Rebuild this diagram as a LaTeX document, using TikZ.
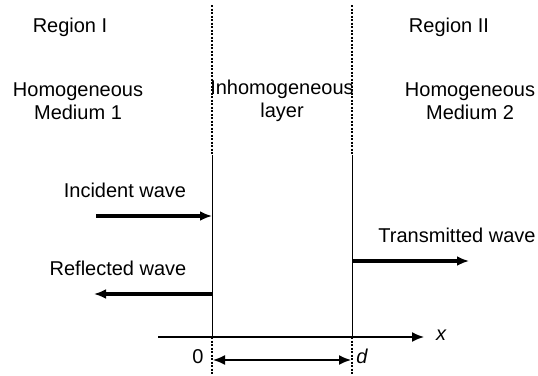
\documentclass[tikz,border=0pt]{standalone}
\usepackage{fontspec}
\setmainfont{Liberation Sans}
\usetikzlibrary{arrows.meta}
\begin{document}
\begin{tikzpicture}[x=1pt,y=-1pt,
  lbl/.style={font=\fontsize{20}{23}\selectfont, inner sep=0pt, align=center},
  wave/.style={line width=3.2pt, -{Latex[length=12pt,width=10pt]}},
  iface/.style={line width=1pt},
  guide/.style={line width=1.1pt, dashed, dash pattern=on 2pt off 1.5pt},
  axis/.style={line width=1.6pt, -{Latex[length=12pt,width=10pt]}}]
\useasboundingbox (0,0) rectangle (538,375);
% interface coordinates
\coordinate (L0) at (212,5);
\coordinate (L1) at (212,155);
\coordinate (L2) at (212,337);
\coordinate (L3) at (212,375);
\coordinate (R0) at (352,5);
\coordinate (R1) at (352,155);
\coordinate (R2) at (352,337);
\coordinate (R3) at (352,375);
\draw[guide] (L0) -- (L1);
\draw[iface] (L1) -- (L2);
\draw[guide] (L2) -- (L3);
\draw[guide] (R0) -- (R1);
\draw[iface] (R1) -- (R2);
\draw[guide] (R2) -- (R3);
% texts
\node[lbl] (r1) at (70,27) {Region I};
\node[lbl] (r2) at (449,27) {Region II};
\node[lbl] (m1) at (78,101) {Homogeneous\\Medium 1};
\node[lbl] (il) at (282,101) {Inhomogeneous\\layer};
\node[lbl] (m2) at (470,101) {Homogeneous\\Medium 2};
\node[lbl] (inc) at (125,190) {Incident wave};
\node[lbl] (ref) at (118,268) {Reflected wave};
\node[lbl] (tra) at (457,235) {Transmitted wave};
% waves
\coordinate (incS) at (96,216);
\coordinate (incE) at (212,216);
\coordinate (refS) at (212,294);
\coordinate (refE) at (94,294);
\coordinate (traS) at (352,261);
\coordinate (traE) at (469,261);
\draw[wave] (incS) -- (incE);
\draw[wave] (refS) -- (refE);
\draw[wave] (traS) -- (traE);
% axis
\coordinate (axS) at (158,337);
\coordinate (axE) at (424,337);
\draw[axis] (axS) -- (axE);
\node[lbl, font=\fontsize{20}{23}\selectfont\itshape] (xl) at (441,335) {x};
% dimension
\coordinate (dS) at (213,360);
\coordinate (dE) at (351,360);
\draw[line width=1.6pt, {Latex[length=12pt,width=10pt]}-{Latex[length=12pt,width=10pt]}] (dS) -- (dE);
\node[lbl] (zero) at (198,357) {0};
\node[lbl, font=\fontsize{20}{23}\selectfont\itshape] (dl) at (362,356) {d};
\end{tikzpicture}
\end{document}
